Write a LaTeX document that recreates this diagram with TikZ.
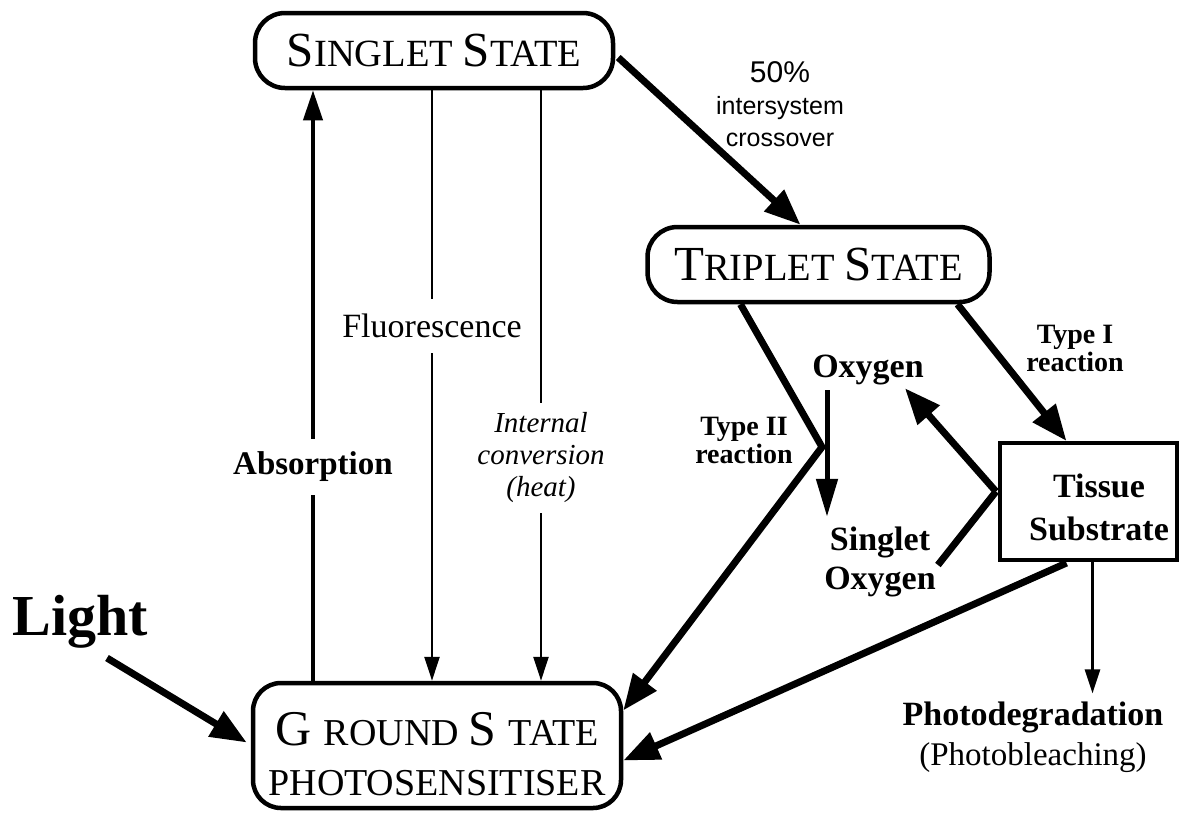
\documentclass[tikz,border=0pt]{standalone}
\usepackage{fontspec}
\setmainfont{Liberation Serif}
\newfontfamily\hvfont{Liberation Sans}
\usetikzlibrary{arrows.meta,calc}
\newcommand\fs[1]{\fontsize{#1}{#1}\selectfont}
\newcommand\fsb[1]{\fontsize{#1}{50}\selectfont}
\begin{document}
\begin{tikzpicture}[x=1pt,y=-1pt,
  statebox/.style={draw, line width=4.5pt, rounded corners=30pt, inner sep=0pt},
  lbl/.style={inner sep=0pt, align=center},
  thickline/.style={line width=7pt},
  thickarrow/.style={line width=7pt, -{Triangle[length=36pt,width=28pt]}},
  absline/.style={line width=4pt},
  absarrow/.style={line width=4pt, -{Triangle[length=30pt,width=19pt]}},
  thinline/.style={line width=2.6pt},
  thinarrow/.style={line width=2.6pt, -{Triangle[length=24pt,width=15pt]}},
  oxarrow/.style={line width=5pt, -{Triangle[length=38pt,width=21pt]}}
]
\fill[white] (0,0) rectangle (1181,815);
\useasboundingbox (0,0) rectangle (1181,815);

% boxes
\node[statebox, minimum width=358pt, minimum height=75pt] (singlet) at (434,50.5)
  {\fs{49}S\fs{38.5}INGLET \fs{49}S\fs{38.5}TATE};
\node[statebox, minimum width=342pt, minimum height=75pt] (triplet) at (818.5,264.5)
  {\fs{49}T\fs{38.5}RIPLET \fs{49}S\fs{38.5}TATE};
\node[statebox, rounded corners=28pt, minimum width=368pt, minimum height=125pt, align=center,
      font=\fsb{38}] (ground) at (437,745.5)
  {\rule{0pt}{50pt}\fsb{50}G \fsb{38}ROUND \fsb{50}S \fsb{38}TATE\\PHOTOSENSITISER};
\node[draw, line width=4pt, minimum width=177pt, minimum height=117pt, inner sep=0pt] (tissue) at (1088.5,501.5) {};
\node[lbl, font=\bfseries\fontsize{34}{43}\selectfont] (tissuetext) at (1099,507) {Tissue\\Substrate};

% labels
\node[lbl, font=\bfseries\fs{58}] (light) at (80,622) {Light};
\node[lbl, inner ysep=13pt, font=\bfseries\fs{33}] (absl) at (313,467) {Absorption};
\node[lbl, inner ysep=15pt, font=\fs{34}] (flu) at (432,326) {Fluorescence};
\node[lbl, inner ysep=10pt, font=\itshape\fontsize{29}{32}\selectfont] (icl) at (541,458) {Internal\\conversion\\(heat)};
\node[lbl, font=\hvfont\fontsize{25}{32}\selectfont] (isc) at (780,104) {{\fs{30}50\%}\\intersystem\\crossover};
\node[lbl, font=\bfseries\fontsize{28}{28}\selectfont] (t2) at (744,440) {Type II\\reaction};
\node[lbl, font=\bfseries\fontsize{28}{28}\selectfont] (t1) at (1075,348) {Type I\\reaction};
\node[lbl, font=\bfseries\fs{34}] (oxy) at (868,370) {Oxygen};
\node[lbl, font=\bfseries\fontsize{34}{39}\selectfont] (so2) at (880,562) {Singlet\\Oxygen};
\node[lbl, font=\fontsize{33}{40}\selectfont] (photo) at (1033,737) {\textbf{\fontsize{34}{40}\selectfont Photodegradation}\\(Photobleaching)};

% helper coordinates
\coordinate (v2) at (822,447);
\coordinate (v1) at ($(tissue.west)+(-2,-10)$);
\coordinate (ls) at (107,658);
\coordinate (o2line) at (827,0);
\coordinate (pd) at ($(tissue.south)+(4,0)$);

% connectors
\draw[absline] (ground.north -| absl) -- (absl.south);
\draw[absarrow] (absl.north) -- (singlet.south -| absl);
\draw[thinline] (singlet.south -| flu) -- (flu.north);
\draw[thinarrow] (flu.south) -- (ground.north -| flu);
\draw[thinline] (singlet.south -| icl) -- (icl.north);
\draw[thinarrow] (icl.south) -- (ground.north -| icl);
\draw[thickarrow] ($(singlet.east)+(3,7)$) -- ($(triplet.north)+(-18,0)$);
\draw[thickarrow, line join=miter] ($(triplet.south)+(-78,0)$) -- (v2) -- ($(ground.east)+(0,-35)$);
\draw[thickarrow] ($(triplet.south)+(139,0)$) -- ($(tissue.north)+(-22,0)$);
\draw[thickarrow] (v1) -- ($(oxy.south east)+(-19,3)$);
\draw[thickline] (v1) -- ($(so2.east)+(2,3)$);
\draw[oxarrow] ($(oxy.south -| o2line)+(0,5)$) -- ($(so2.north -| o2line)+(0,-10)$);
\draw[thickarrow] ($(tissue.south)+(-22,1)$) -- ($(ground.east)+(0,15)$);
\draw[thinarrow] (pd) -- ($(pd |- photo.north)+(0,-8)$);
\draw[thickarrow] (ls) -- ($(ground.west)+(-4,-3)$);
\end{tikzpicture}
\end{document}
